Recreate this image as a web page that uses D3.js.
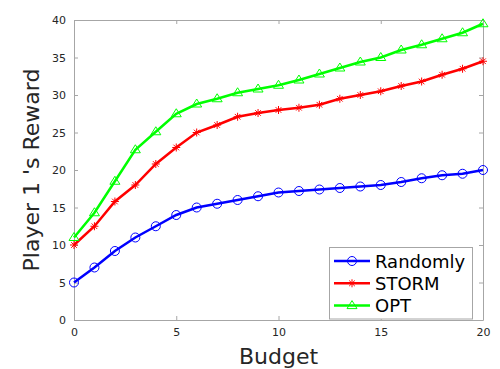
<!DOCTYPE html>
<html>
<head>
<meta charset="utf-8">
<script src="https://cdn.jsdelivr.net/npm/d3@7"></script>
<style>
  body { margin: 0; background: #fff; }
  text { font-family: "DejaVu Sans", sans-serif; }
</style>
</head>
<body>
<div id="output"></div>
<script>
const width = 500, height = 369;
const margin = {left: 74, right: 17, top: 20, bottom: 49};

// data
const budget = d3.range(0, 21);
const randomly = [5, 7, 9.2, 11, 12.5, 14, 15, 15.5, 16, 16.5, 17, 17.2, 17.4, 17.6, 17.8, 18, 18.4, 18.9, 19.3, 19.5, 20];
const storm = [10, 12.5, 15.8, 18, 20.8, 23, 25, 26, 27.1, 27.6, 28, 28.3, 28.7, 29.5, 30, 30.5, 31.2, 31.8, 32.7, 33.5, 34.5];
const opt = [11, 14.3, 18.5, 22.7, 25.1, 27.5, 28.8, 29.5, 30.3, 30.8, 31.3, 32, 32.8, 33.6, 34.4, 35, 36, 36.7, 37.5, 38.3, 39.5];
const xTicks = [0, 5, 10, 15, 20];
const yTicks = [0, 5, 10, 15, 20, 25, 30, 35, 40];

const series = [
    {name: 'Randomly', values: randomly, color: '#0000ff', marker: 'circle'},
    {name: 'STORM', values: storm, color: '#ff0000', marker: 'star'},
    {name: 'OPT', values: opt, color: '#00ff00', marker: 'triangle'}
];

const axisColor = '#a6a6a6';
const textColor = '#262626';

const svg = d3.select('#output').append('svg')
    .attr('width', width)
    .attr('height', height);

const x = d3.scaleLinear().domain([0, 20]).range([margin.left, width - margin.right]);
const y = d3.scaleLinear().domain([0, 40]).range([height - margin.bottom, margin.top]);

// axes (ticks pointing inward, box all round)
function styleAxis(g) {
    g.select('.domain').attr('stroke', axisColor);
    g.selectAll('.tick line').attr('stroke', axisColor);
    g.selectAll('.tick text').attr('fill', textColor).attr('font-size', 11)
        .attr('font-family', '"DejaVu Sans", sans-serif');
}
svg.append('g')
    .attr('transform', 'translate(0,' + y(0) + ')')
    .call(d3.axisBottom(x).tickValues(xTicks).tickSizeInner(-4).tickSizeOuter(0).tickPadding(8))
    .call(styleAxis);
svg.append('g')
    .attr('transform', 'translate(0,' + y(40) + ')')
    .call(d3.axisTop(x).tickValues(xTicks).tickSizeInner(-4).tickSizeOuter(0).tickFormat(''))
    .call(styleAxis);
svg.append('g')
    .attr('transform', 'translate(' + x(0) + ',0)')
    .call(d3.axisLeft(y).tickValues(yTicks).tickSizeInner(-4).tickSizeOuter(0).tickPadding(8))
    .call(styleAxis);
svg.append('g')
    .attr('transform', 'translate(' + x(20) + ',0)')
    .call(d3.axisRight(y).tickValues(yTicks).tickSizeInner(-4).tickSizeOuter(0).tickFormat(''))
    .call(styleAxis);

// axis labels
svg.append('text')
    .attr('x', (x(0) + x(20)) / 2)
    .attr('y', 364)
    .attr('text-anchor', 'middle')
    .attr('font-size', 22)
    .attr('fill', textColor)
    .text('Budget');
svg.append('text')
    .attr('transform', 'translate(39,' + ((y(0) + y(40)) / 2) + ') rotate(-90)')
    .attr('text-anchor', 'middle')
    .attr('font-size', 22)
    .attr('fill', textColor)
    .text("Player 1 's Reward");

// markers
function drawMarker(g, kind, color, cx, cy) {
    if (kind === 'circle') {
        g.append('circle').attr('cx', cx).attr('cy', cy).attr('r', 4.5)
            .attr('fill', 'none').attr('stroke', color).attr('stroke-width', 1);
    } else if (kind === 'star') {
        const r = 4;
        const p = [[-r, 0, r, 0], [0, -r, 0, r], [-r*0.7, -r*0.7, r*0.7, r*0.7], [-r*0.7, r*0.7, r*0.7, -r*0.7]];
        p.forEach(s => g.append('line')
            .attr('x1', cx + s[0]).attr('y1', cy + s[1])
            .attr('x2', cx + s[2]).attr('y2', cy + s[3])
            .attr('stroke', color).attr('stroke-width', 1));
    } else {
        const r = 5;
        g.append('path')
            .attr('d', 'M' + cx + ',' + (cy - r) + 'L' + (cx + r) + ',' + (cy + r * 0.6) + 'L' + (cx - r) + ',' + (cy + r * 0.6) + 'Z')
            .attr('fill', 'none').attr('stroke', color).attr('stroke-width', 1);
    }
}

const line = d3.line().x((d, i) => x(budget[i])).y(d => y(d));
series.forEach(s => {
    const g = svg.append('g');
    g.append('path')
        .attr('d', line(s.values))
        .attr('fill', 'none')
        .attr('stroke', s.color)
        .attr('stroke-width', 2.5);
    s.values.forEach((v, i) => drawMarker(g, s.marker, s.color, x(budget[i]), y(v)));
});

// legend
const lg = svg.append('g');
lg.append('rect')
    .attr('x', 329.5).attr('y', 247.5)
    .attr('width', 143).attr('height', 71.5)
    .attr('fill', '#fff').attr('stroke', axisColor).attr('stroke-width', 1);
series.forEach((s, i) => {
    const ry = 261 + i * 22.3;
    lg.append('line').attr('x1', 334).attr('x2', 370).attr('y1', ry).attr('y2', ry)
        .attr('stroke', s.color).attr('stroke-width', 2.5);
    drawMarker(lg, s.marker, s.color, 352, ry);
    lg.append('text').attr('x', 375).attr('y', ry + 6.5)
        .attr('font-size', 18).attr('fill', '#000').text(s.name);
});
</script>
</body>
</html>
